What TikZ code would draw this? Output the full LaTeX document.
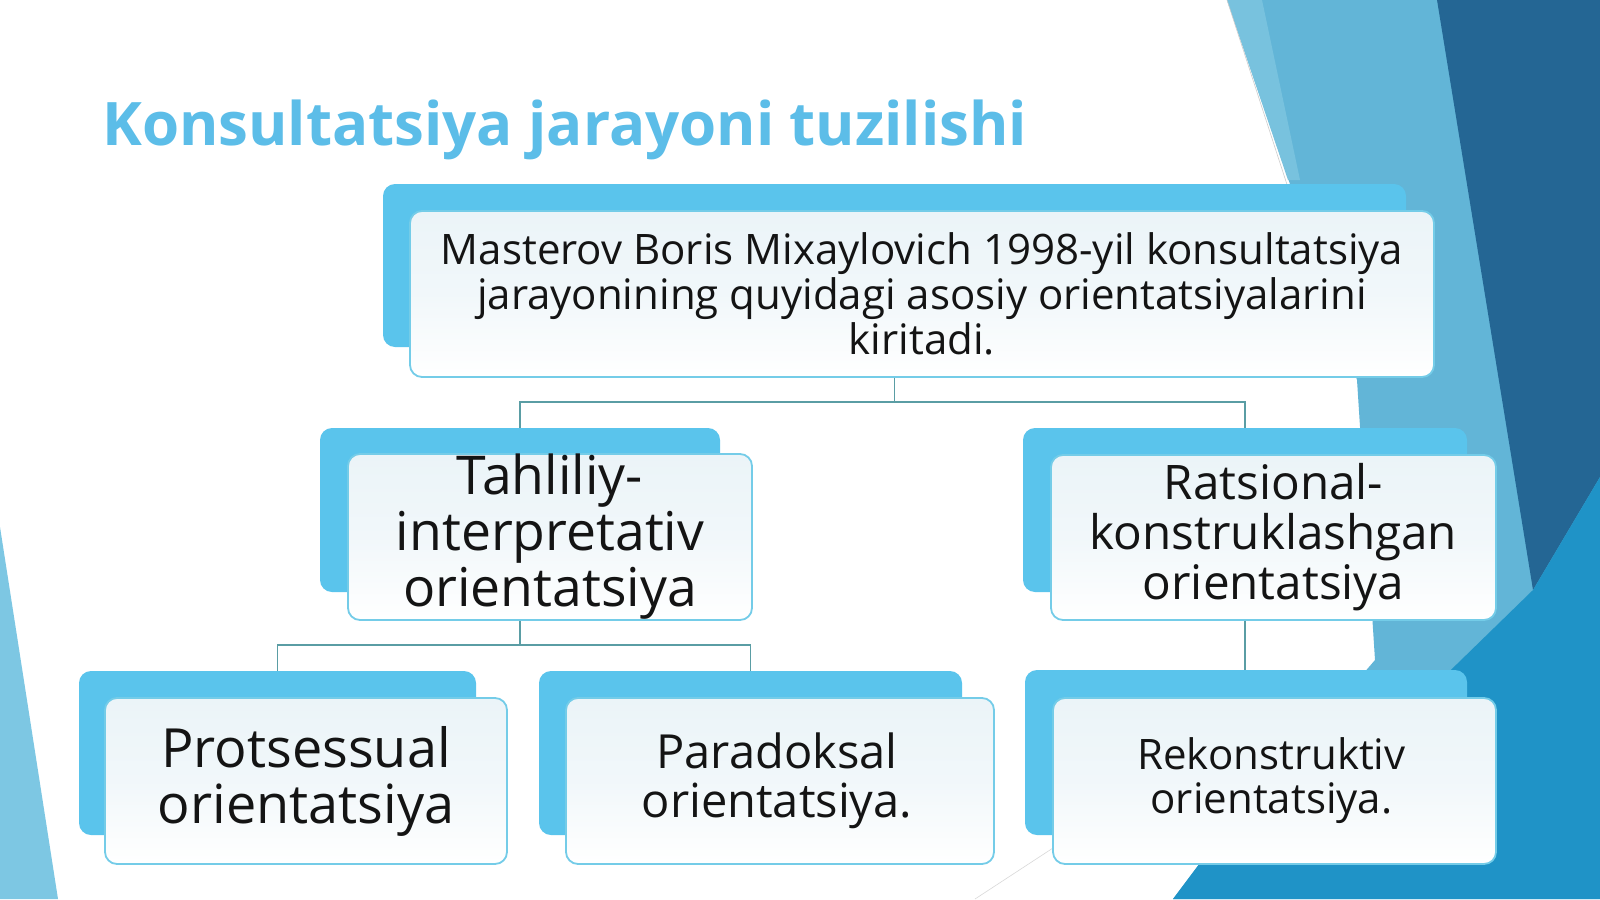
\documentclass[tikz,border=0pt]{standalone}
\usepackage{fontspec}
\setmainfont{Open Sans}
\definecolor{bandblue}{HTML}{62B5D7}
\definecolor{bandlight}{HTML}{78C2DE}
\definecolor{darkblue}{HTML}{246694}
\definecolor{midblue}{HTML}{1F93C7}
\definecolor{leftblue}{HTML}{7DC7E3}
\definecolor{boxblue}{HTML}{5AC4EC}
\definecolor{edgeblue}{HTML}{74CCE8}
\definecolor{frontfill}{HTML}{EBF4F8}
\definecolor{conncol}{HTML}{5A9DA4}
\definecolor{titleblue}{HTML}{5CBDE8}
\begin{document}
\begin{tikzpicture}[x=1pt,y=-1pt,
  backbox/.style={rectangle, rounded corners=12pt, fill=boxblue, inner sep=0pt},
  frontbox/.style={rectangle, rounded corners=12pt, draw=edgeblue, line width=1.8pt,
     top color=frontfill, bottom color=white, middle color=frontfill!70!white,
     inner sep=0pt, align=center, text=black!92},
  conn/.style={draw=conncol, line width=1.8pt}]
\useasboundingbox (0,0) rectangle (1600,899);
\fill[white] (0,0) rectangle (1600,899);
% background shapes
\fill[bandblue] (1227,0) -- (1600,0) -- (1600,899) -- (1173,899) -- (1200,863) -- (1375,660) -- (1357,380) -- cycle;
\fill[bandlight] (1227,0) -- (1262,0) -- (1300,180) -- (1288,180) -- cycle;
\fill[darkblue] (1437,0) -- (1600,0) -- (1600,477) -- (1533,590) -- cycle;
\fill[midblue] (1600,477) -- (1533,590) -- (1420,700) -- (1200,863) -- (1173,899) -- (1600,899) -- cycle;
\fill[leftblue] (0,527) -- (58,899) -- (0,899) -- cycle;
\draw[black!20, line width=0.6pt] (1227,0) -- (1292,200);
\draw[black!15, line width=0.6pt] (975,899) -- (1053,848);
% title
\node[anchor=base west, inner sep=0pt, text=titleblue, font=\fontsize{60}{63}\selectfont\bfseries] (title) at (102,145) {Konsultatsiya jarayoni tuzilishi};
% boxes
\node[backbox, minimum width=1023pt, minimum height=163pt] (tb) at (894.5,265.5) {};
\node[frontbox, minimum width=1024pt, minimum height=166pt, font=\fontsize{42}{45}\selectfont] (tf) at (922,294)
  {Masterov Boris Mixaylovich 1998-yil konsultatsiya\\jarayonining quyidagi asosiy orientatsiyalarini\\kiritadi.};
\node[backbox, minimum width=400pt, minimum height=164pt] (mlb) at (520,510) {};
\node[frontbox, minimum width=404pt, minimum height=166pt, font=\fontsize{53.5}{56}\selectfont] (mlf) at (550,537)
  {Tahliliy-\\interpretativ\\orientatsiya};
\node[backbox, minimum width=444pt, minimum height=164pt] (mrb) at (1245,510) {};
\node[frontbox, minimum width=445pt, minimum height=165pt, font=\fontsize{47.6}{50}\selectfont] (mrf) at (1273.5,537.5)
  {Ratsional-\\konstruklashgan\\orientatsiya};
\node[backbox, minimum width=397pt, minimum height=164pt] (pb) at (277.5,753) {};
\node[frontbox, minimum width=402pt, minimum height=166pt, font=\fontsize{54}{56}\selectfont] (pf) at (306,781)
  {Protsessual\\orientatsiya};
\node[backbox, minimum width=423pt, minimum height=164pt] (db) at (750.5,753) {};
\node[frontbox, minimum width=428pt, minimum height=166pt, font=\fontsize{47}{49}\selectfont] (df) at (780,781)
  {\hspace*{-6pt}Paradoksal\\\hspace*{-6pt}orientatsiya.};
\node[backbox, minimum width=442pt, minimum height=165pt] (rb) at (1246,752.5) {};
\node[frontbox, minimum width=443pt, minimum height=166pt, font=\fontsize{42}{44}\selectfont] (rf) at (1274.5,781)
  {\hspace*{-6pt}Rekonstruktiv\\\hspace*{-6pt}orientatsiya.};
% connectors
\coordinate (j1) at (894.5,402);
\coordinate (j2) at (520,645);
\draw[conn] (tb.center |- tf.south) -- (j1);
\draw[conn] (mlb.north) |- (j1) -| (mrb.north);
\draw[conn] (mlb.center |- mlf.south) -- (j2);
\draw[conn] (pb.north) |- (j2) -| (db.north);
\draw[conn] (mrb.center |- mrf.south) -- (mrb.center |- rb.north);
\end{tikzpicture}
\end{document}
